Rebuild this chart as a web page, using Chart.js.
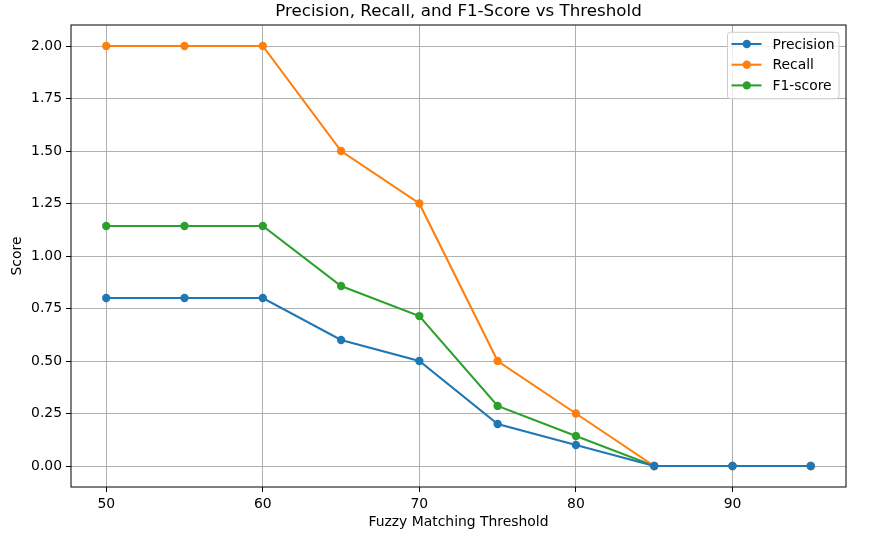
<!DOCTYPE html>
<html>
<head>
<meta charset="utf-8">
<script src="https://cdn.jsdelivr.net/npm/chart.js@4.4.0/dist/chart.umd.min.js"></script>
<style>
  html, body { margin: 0; padding: 0; background: #fff; }
  #wrap { width: 872px; height: 542px; }
</style>
</head>
<body>
<div id="wrap"><canvas id="grafico"></canvas></div>
<script>
// valores
const thresholds = [50, 55, 60, 65, 70, 75, 80, 85, 90, 95];
const precision = [0.80, 0.80, 0.80, 0.60, 0.50, 0.20, 0.10, 0.00, 0.00, 0.00];
const recall = [2.00, 2.00, 2.00, 1.50, 1.25, 0.50, 0.25, 0.00, 0.00, 0.00];
const f1score = [1.143, 1.143, 1.143, 0.857, 0.714, 0.286, 0.143, 0.00, 0.00, 0.00];
const xTicks = [50, 60, 70, 80, 90];
const yTicks = [0, 0.25, 0.5, 0.75, 1.0, 1.25, 1.5, 1.75, 2.0];

const series = [
    { label: 'Precision', data: precision, cor: '#1f77b4' },
    { label: 'Recall', data: recall, cor: '#ff7f0e' },
    { label: 'F1-score', data: f1score, cor: '#2ca02c' }
];

const fonte = 'DejaVu Sans, sans-serif';
const tituloTexto = 'Precision, Recall, and F1-Score vs Threshold';

// titulo, moldura preta e legenda no canto superior direito
const molduraLegenda = {
    id: 'molduraLegenda',
    afterDraw(chart) {
        const ctx = chart.ctx;
        const a = chart.chartArea;
        ctx.save();
        ctx.strokeStyle = '#000';
        ctx.lineWidth = 1;
        ctx.strokeRect(a.left, a.top, a.right - a.left, a.bottom - a.top);

        // titulo
        ctx.fillStyle = '#000';
        ctx.font = '16.7px ' + fonte;
        ctx.textAlign = 'center';
        ctx.textBaseline = 'middle';
        ctx.fillText(tituloTexto, (a.left + a.right) / 2, 12);

        // legenda
        const bx = a.right - 118.5, by = a.top + 7.3, bw = 111.5, bh = 66.5;
        ctx.fillStyle = 'rgba(255,255,255,0.8)';
        ctx.strokeStyle = '#cccccc';
        ctx.beginPath();
        ctx.roundRect(bx, by, bw, bh, 3);
        ctx.fill();
        ctx.stroke();
        ctx.font = '13.9px ' + fonte;
        ctx.textAlign = 'left';
        series.forEach((s, i) => {
            const cy = by + 11.7 + i * 20.7;
            ctx.strokeStyle = s.cor;
            ctx.lineWidth = 2.08;
            ctx.beginPath();
            ctx.moveTo(bx + 4, cy);
            ctx.lineTo(bx + 34, cy);
            ctx.stroke();
            ctx.fillStyle = s.cor;
            ctx.beginPath();
            ctx.arc(bx + 19.3, cy, 4.17, 0, Math.PI * 2);
            ctx.fill();
            ctx.fillStyle = '#000';
            ctx.fillText(s.label, bx + 45, cy + 1);
        });
        ctx.restore();
    }
};

new Chart(document.getElementById('grafico'), {
    type: 'line',
    data: {
        datasets: series.map(s => ({
            label: s.label,
            data: thresholds.map((t, i) => ({ x: t, y: s.data[i] })),
            borderColor: s.cor,
            backgroundColor: s.cor,
            borderWidth: 2.08,
            pointRadius: 4.17,
            pointHoverRadius: 4.17,
            pointBorderWidth: 0,
            tension: 0
        }))
    },
    options: {
        responsive: true,
        maintainAspectRatio: false,
        animation: false,
        layout: { padding: { top: 25, right: 26, bottom: 11, left: 9 } },
        plugins: {
            legend: { display: false },
            tooltip: { enabled: false },
            title: { display: false }
        },
        scales: {
            x: {
                type: 'linear',
                min: 47.75,
                max: 97.25,
                afterBuildTicks: (axis) => { axis.ticks = xTicks.map(v => ({ value: v })); },
                afterFit: (axis) => { axis.height = 44; },
                grid: { color: '#b0b0b0', lineWidth: 1, tickColor: '#000', tickLength: 5 },
                border: { display: false },
                ticks: { color: '#000', font: { family: fonte, size: 13.9 }, padding: 4, maxRotation: 0 },
                title: {
                    display: true,
                    text: 'Fuzzy Matching Threshold',
                    color: '#000',
                    font: { family: fonte, size: 13.9 },
                    padding: 0
                }
            },
            y: {
                min: -0.1,
                max: 2.1,
                afterBuildTicks: (axis) => { axis.ticks = yTicks.map(v => ({ value: v })); },
                afterFit: (axis) => { axis.width = 62; },
                grid: { color: '#b0b0b0', lineWidth: 1, tickColor: '#000', tickLength: 5 },
                border: { display: false },
                ticks: {
                    color: '#000',
                    font: { family: fonte, size: 13.9 },
                    padding: 4,
                    callback: (v) => Number(v).toFixed(2)
                },
                title: {
                    display: true,
                    text: 'Score',
                    color: '#000',
                    font: { family: fonte, size: 13.9 },
                    padding: 0
                }
            }
        }
    },
    plugins: [molduraLegenda]
});
</script>
</body>
</html>
